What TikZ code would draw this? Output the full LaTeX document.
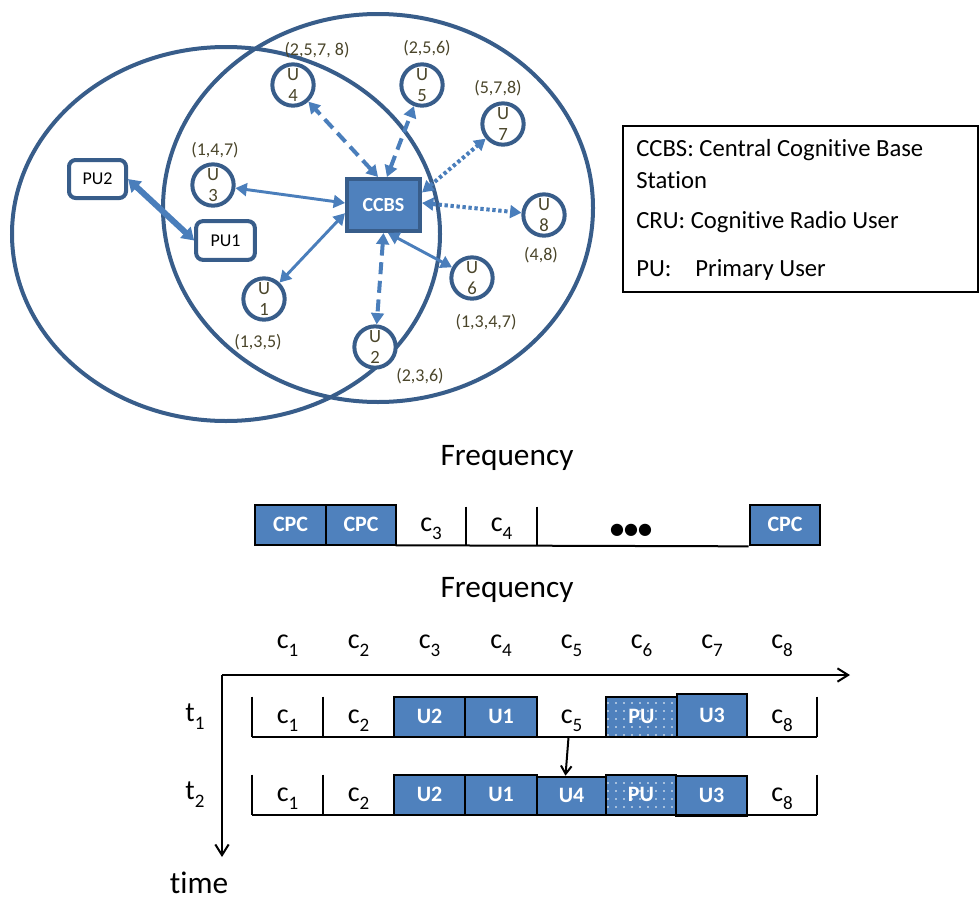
\documentclass[tikz,border=0pt]{standalone}
\usepackage{fontspec}
\usepackage{graphicx}
\setmainfont{Carlito}[Ligatures=NoCommon]
\newfontfamily\dejavu{DejaVu Sans}
\usetikzlibrary{arrows.meta,patterns.meta,calc}
\definecolor{ofblue}{HTML}{4F81BD}
\definecolor{ofdark}{HTML}{385D8A}
\definecolor{arrblue}{HTML}{4A7EBB}
\definecolor{olive}{HTML}{4A452A}
\newcommand{\csb}[2]{#1\raisebox{-0.3em}{\scalebox{0.68}{#2}}}
\begin{document}
\begin{tikzpicture}[x=0.75pt,y=-0.75pt,
  region/.style={draw=ofdark,line width=3pt},
  cru/.style={circle,draw=ofdark,line width=3pt,fill=white,minimum size=31pt,inner sep=0pt,align=center,text=olive,font=\fontsize{14}{15.5}\selectfont},
  chl/.style={text=olive,font=\fontsize{13.5}{16}\selectfont,inner sep=0pt},
  bs/.style={draw=ofdark,fill=ofblue,line width=3pt,minimum width=54.75pt,minimum height=39pt,inner sep=0pt,text=white,font=\bfseries\fontsize{15}{18}\selectfont},
  pubox/.style={draw=ofdark,fill=white,line width=3pt,rounded corners=5pt,inner sep=0pt,font=\fontsize{13.5}{16}\selectfont},
  link/.style={draw=arrblue,line width=2.2pt,<->,>={Triangle[length=8.5pt,width=9.5pt]}},
  dashlink/.style={link,line width=3pt,dash pattern=on 9pt off 5pt},
  dotlink/.style={link,line width=3pt,dash pattern=on 2.5pt off 2pt},
  pulink/.style={draw=arrblue,line width=4.5pt,<->,>={Triangle[length=9pt,width=11pt]}},
  cell/.style={minimum height=30pt,inner sep=0pt,text height=9pt,text depth=0pt,font=\fontsize{21}{24}\selectfont},
  ucell/.style={cell,draw=black,line width=2pt,fill=ofblue,text=white,text height=10pt,font=\bfseries\fontsize{16.5}{19}\selectfont},
  pucell/.style={ucell,preaction={fill=ofblue},pattern={Dots[distance=6pt,radius=0.7pt]},pattern color=white},
  rowline/.style={draw=black,line width=1.5pt},
  hdr/.style={anchor=base,inner sep=0pt,font=\fontsize{21}{24}\selectfont},
  big/.style={inner sep=0pt,font=\fontsize{23.5}{26}\selectfont},
  axis/.style={draw=black,line width=1.5pt,-{Straight Barb[length=8pt,width=10pt]}},
  leg/.style={anchor=west,inner sep=0pt,font=\fontsize{18.5}{22}\selectfont}
]
\useasboundingbox (0,0) rectangle (980,903);

% coverage regions
\draw[region] (226,234) ellipse [x radius=160.5pt, y radius=140.25pt];
\draw[region] (378,208) ellipse [x radius=161.25pt, y radius=145.5pt];

% nodes of the network
\node[bs] (ccbs) at (383.5,205) {CCBS};
\node[pubox,minimum width=42.75pt,minimum height=28.5pt] (pu2) at (97.5,179) {PU2};
\node[pubox,minimum width=44pt,minimum height=29pt] (pu1) at (225.5,240.5) {PU1};
\node[cru] (u1) at (264,299) {U\\1};
\node[cru] (u2) at (375,347) {U\\2};
\node[cru] (u3) at (213,185) {U\\3};
\node[cru] (u4) at (293,85) {U\\4};
\node[cru] (u5) at (422,85) {U\\5};
\node[cru] (u6) at (472,278) {U\\6};
\node[cru] (u7) at (503,124) {U\\7};
\node[cru] (u8) at (544,215) {U\\8};

\node[chl] (l1) at (258,342) {(1,3,5)};
\node[chl] (l2) at (420,376) {(2,3,6)};
\node[chl] (l3) at (215,150) {(1,4,7)};
\node[chl] (l4) at (317,50) {(2,5,7, 8)};
\node[chl] (l5) at (427,48) {(2,5,6)};
\node[chl] (l6) at (486,322) {(1,3,4,7)};
\node[chl] (l7) at (498,88) {(5,7,8)};
\node[chl] (l8) at (541,255) {(4,8)};

% links
\draw[pulink] (pu2.east) -- (pu1.west);
\draw[link] (ccbs.177) -- (u3);
\draw[link] (ccbs.192) -- (u1);
\draw[link] (ccbs.-81) -- (u6);
\draw[dashlink] (ccbs.101) -- (u4);
\draw[dashlink] (ccbs.83) -- (u5);
\draw[dashlink] (ccbs.-90) -- (u2);
\draw[dotlink] (ccbs.18) -- (u7);
\draw[dotlink] (ccbs.3) -- (u8);

% legend
\node[draw=black,line width=1.5pt,minimum width=266.25pt,minimum height=124.5pt,inner sep=0pt] (legend) at (800.5,209) {};
\node[leg] (lg1) at (636,150) {CCBS: Central Cognitive Base};
\node[leg] (lg2) at (636,180) {Station};
\node[leg] (lg3) at (636,222) {CRU: Cognitive Radio User};
\node[leg] (lg4) at (636,270) {PU:\hspace{18pt}Primary User};

% frequency bar
\node[big] (fq1) at (507,458) {Frequency};
\node[ucell,minimum width=53.25pt] (f1) at (290.5,525) {CPC};
\node[ucell,minimum width=52.5pt] (f2) at (361,525) {CPC};
\node[cell,minimum width=52.5pt] (f3) at (431,525) {\csb{c}{3}};
\node[cell,minimum width=53.25pt] (f4) at (501.5,525) {\csb{c}{4}};
\node[cell,minimum width=159.75pt] (f5) at (643.5,525) {};
\node[ucell,minimum width=52.5pt] (f6) at (785,525) {CPC};
\node[inner sep=0pt,font=\dejavu\fontsize{12}{12}\selectfont] (dots) at (631,530) {●●●};
\draw[rowline] (f3.south west) -- (f6.south west);
\draw[rowline] ($(f4.north west)+(0,2)$) -- (f4.south west);
\draw[rowline] ($(f5.north west)+(0,2)$) -- (f5.south west);

% time-frequency grid
\node[big] (fq2) at (507,590) {Frequency};
\node[hdr] (h1) at (287.5,648) {\csb{c}{1}};
\node[hdr] (h2) at (358.5,648) {\csb{c}{2}};
\node[hdr] (h3) at (429.5,648) {\csb{c}{3}};
\node[hdr] (h4) at (501,648) {\csb{c}{4}};
\node[hdr] (h5) at (571.5,648) {\csb{c}{5}};
\node[hdr] (h6) at (641.5,648) {\csb{c}{6}};
\node[hdr] (h7) at (712,648) {\csb{c}{7}};
\node[hdr] (h8) at (782,648) {\csb{c}{8}};

\coordinate (o) at (222,675);
\coordinate (xend) at (850,675);
\coordinate (yend) at (222,857);
\draw[axis] (o) -- (xend);
\draw[axis] (o) -- (yend);

\node[hdr] (t1) at (195,721) {\csb{t}{1}};
\node[hdr] (t2) at (195,799) {\csb{t}{2}};
\node[big,anchor=base] (time) at (199,893) {time};

% row t1
\node[cell,minimum width=53.25pt] (a1) at (287.5,717) {\csb{c}{1}};
\node[cell,minimum width=53.25pt] (a2) at (358.5,717) {\csb{c}{2}};
\node[ucell,minimum width=53.25pt] (a3) at (429.5,717) {U2};
\node[ucell,minimum width=54pt] (a4) at (501,717) {U1};
\node[cell,minimum width=51.75pt] (a5) at (571.5,717) {\csb{c}{5}};
\node[pucell,minimum width=53.25pt] (a6) at (641.5,717) {PU};
\node[ucell,minimum width=52.5pt,minimum height=32.25pt] (a7) at (712,715.5) {U3};
\node[cell,minimum width=52.5pt] (a8) at (782,717) {\csb{c}{8}};
\draw[rowline] (a1.south west) -- (a8.south east);
\draw[rowline] (a1.north west) -- (a1.south west);
\draw[rowline] (a2.north west) -- (a2.south west);
\draw[rowline] (a8.north east) -- (a8.south east);

% row t2
\node[cell,minimum width=53.25pt] (b1) at (287.5,795) {\csb{c}{1}};
\node[cell,minimum width=53.25pt] (b2) at (358.5,795) {\csb{c}{2}};
\node[ucell,minimum width=53.25pt] (b3) at (429.5,795) {U2};
\node[ucell,minimum width=54pt] (b4) at (501,795) {U1};
\node[ucell,minimum width=51.75pt,minimum height=28.5pt] (b5) at (571.5,796) {U4};
\node[pucell,minimum width=52.5pt] (b6) at (641,795) {PU};
\node[ucell,minimum width=53.25pt] (b7) at (711.5,796) {U3};
\node[cell,minimum width=52.5pt] (b8) at (782,795) {\csb{c}{8}};
\draw[rowline] (b1.south west) -- (b8.south east);
\draw[rowline] (b1.north west) -- (b1.south west);
\draw[rowline] (b2.north west) -- (b2.south west);
\draw[rowline] (b8.north east) -- (b8.south east);

% reassignment arrow
\draw[draw=black,line width=1.5pt,-{Straight Barb[length=6pt,width=8pt]}] ($(a5.south)+(-3,0)$) -- ($(b5.north)+(-6,0)$);
\end{tikzpicture}
\end{document}
